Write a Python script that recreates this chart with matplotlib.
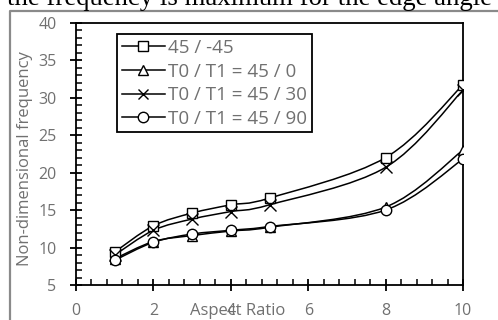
import matplotlib.pyplot as plt
from matplotlib.path import Path
from matplotlib.patches import PathPatch
from matplotlib.lines import Line2D
import numpy as np

# aspect ratios and non-dimensional frequency for each ply layup
aspect = [1, 2, 3, 4, 5, 8, 10]
freq_45_m45 = [9.4, 12.9, 14.6, 15.7, 16.6, 22.0, 31.7]
freq_45_0 = [8.5, 10.8, 11.6, 12.2, 12.7, 15.4, 23.0]
freq_45_30 = [9.0, 12.3, 13.8, 14.8, 15.7, 20.7, 31.0]
freq_45_90 = [8.3, 10.7, 11.8, 12.3, 12.8, 15.0, 21.8]

labels = ['45 / -45', 'T0 / T1 = 45 / 0', 'T0 / T1 = 45 / 30', 'T0 / T1 = 45 / 90']
markers = ['s', '^', 'x', 'o']
series = [freq_45_m45, freq_45_0, freq_45_30, freq_45_90]

grey = '#707070'
font = 'Open Sans'


def smooth_path(x, y):
	# excel-like smoothed line: cubic bezier through every point
	p = np.column_stack([x, y]).astype(float)
	n = len(p)
	verts = [p[0]]
	codes = [Path.MOVETO]
	for i in range(n - 1):
		p0 = p[i - 1] if i > 0 else p[i]
		p1 = p[i]
		p2 = p[i + 1]
		p3 = p[i + 2] if i + 2 < n else p[i + 1]
		c1 = p1 + (p2 - p0) / 6
		c2 = p2 - (p3 - p1) / 6
		verts += [c1, c2, p2]
		codes += [Path.CURVE4] * 3
	return Path(verts, codes)


fig = plt.figure(figsize=(4.98, 3.2), dpi=100)
ax = fig.add_axes([76 / 498, 1 - 285 / 320, 387 / 498, 262.3 / 320])

for ys, m in zip(series, markers):
	ax.add_patch(PathPatch(smooth_path(aspect, ys), facecolor='none', edgecolor='black', lw=1.1, zorder=2))
	ax.plot(aspect, ys, ls='none', marker=m, ms=7.5 if m != 'x' else 8,
		mfc='white' if m != 'x' else 'black', mec='black', mew=1.0, zorder=3)

ax.set_xlim(0, 10)
ax.set_ylim(5, 40)
ax.set_xticks([0, 2, 4, 6, 8, 10])
ax.set_xticks(np.arange(0, 10.01, 0.4), minor=True)
ax.set_yticks([5, 10, 15, 20, 25, 30, 35, 40])
ax.set_yticks(np.arange(5, 40.01, 1), minor=True)
ax.tick_params(which='major', direction='inout', length=9, width=1.3, colors='black',
	labelcolor=grey, labelsize=11.5)
ax.tick_params(which='minor', direction='in', length=4, width=1.1, colors='black')
ax.tick_params(axis='y', which='major', pad=9.5)
ax.tick_params(axis='x', which='major', pad=8.5)
ax.tick_params(top=False, right=False, which='both')
for lab in ax.get_xticklabels() + ax.get_yticklabels():
	lab.set_fontfamily(font)
for s in ax.spines.values():
	s.set_linewidth(1.3)

handles = [Line2D([], [], color='black', lw=1.1, marker=m, ms=7.5,
	mfc='white' if m != 'x' else 'black', mec='black', mew=1.0) for m in markers]
leg = ax.legend(handles, labels, loc='upper left', bbox_to_anchor=(41 / 387, 1 - 11.5 / 262.3),
	frameon=True, fancybox=False, edgecolor='black', framealpha=1, borderpad=0.25,
	handlelength=2.3, handletextpad=0.18, labelspacing=0.3, borderaxespad=0,
	prop={'family': font, 'size': 13.5})
leg.get_frame().set_linewidth(1.3)
for t in leg.get_texts():
	t.set_color(grey)

fig.text(238 / 498, 1 - 311 / 320, 'Aspect Ratio', ha='center', va='center',
	color=grey, family=font, fontsize=12)
fig.text(25 / 498, 1 - 159 / 320, 'Non-dimensional frequency', ha='center', va='center',
	rotation=90, color=grey, family=font, fontsize=12)

# page text and frame around the figure
fig.text(7 / 498, 1 - 5 / 320, 'the frequency is maximum for the edge angle',
	ha='left', va='baseline', family='Liberation Serif', fontsize=19.3, color='black')
fig.add_artist(Line2D([10 / 498, 10 / 498, 1], [0, 1 - 11 / 320, 1 - 11 / 320],
	color='#8a8a8a', lw=1.6, transform=fig.transFigure))

fig.savefig('out.png', dpi=100)
